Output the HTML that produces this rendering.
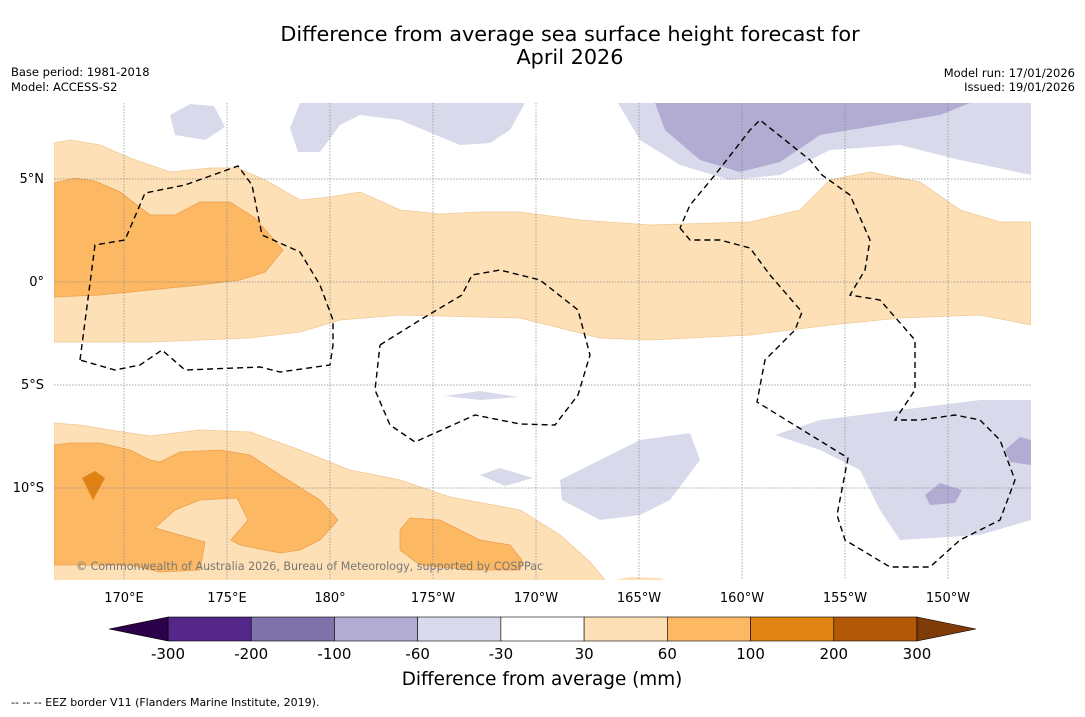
<!DOCTYPE html>
<html><head><meta charset="utf-8"><style>
body{margin:0;background:#fff;font-family:"DejaVu Sans","Liberation Sans",sans-serif}
svg text{font-family:"DejaVu Sans","Liberation Sans",sans-serif}
</style></head><body>
<svg id="chart" width="1085" height="713" viewBox="0 0 1085 713" xmlns="http://www.w3.org/2000/svg">
<text x="570" y="41" font-size="20.8" text-anchor="middle">Difference from average sea surface height forecast for</text>
<text x="570" y="64" font-size="20.8" text-anchor="middle">April 2026</text>
<text x="11" y="76" font-size="11.5">Base period: 1981-2018</text>
<text x="11" y="91" font-size="11.5">Model: ACCESS-S2</text>
<text x="1075" y="77" font-size="11.5" text-anchor="end">Model run: 17/01/2026</text>
<text x="1075" y="91" font-size="11.5" text-anchor="end">Issued: 19/01/2026</text>
<defs><clipPath id="mc"><rect x="54" y="103" width="977" height="477"/></clipPath></defs>
<g clip-path="url(#mc)">
<rect x="54" y="103" width="977" height="477" fill="#fff"/>
<polygon fill="#fee0b6" stroke="#f0c896" stroke-width="0.8" points="54,143 70,140 100,145 130,158 170,172 210,168 238,168 265,180 300,200 330,197 360,192 400,210 440,214 480,212 520,212 580,220 650,225 750,222 800,210 830,180 870,172 920,182 960,210 1000,222 1031,222 1031,325 980,315 900,318 830,325 750,335 650,340 600,338 520,318 400,315 340,320 300,332 250,338 150,342 54,342"/>
<polygon fill="#fdb863" stroke="#eaa050" stroke-width="0.8" points="54,183 75,178 95,181 120,192 150,215 175,215 200,202 230,202 255,218 283,250 265,272 240,280 200,285 150,290 100,295 54,297"/>
<polygon fill="#fee0b6" stroke="#f0c896" stroke-width="0.8" points="54,423 80,425 110,430 150,436 200,430 250,432 300,450 350,470 400,480 450,497 520,510 560,535 590,562 605,580 610,590 54,590"/>
<polygon fill="#fdb863" stroke="#eaa050" stroke-width="0.8" points="54,445 70,443 100,443 130,450 150,460 160,462 180,452 220,450 250,455 280,475 320,500 338,520 320,540 300,550 280,553 240,545 231,540 248,520 237,498 200,500 175,510 155,528 205,542 200,570 160,572 130,565 54,565"/>
<polygon fill="#e08214" points="82,478 95,471 105,478 93,500"/>
<polygon fill="#fdb863" stroke="#eaa050" stroke-width="0.8" points="400,530 410,518 440,520 480,540 510,545 522,560 520,570 470,570 420,565 400,550"/>
<polygon fill="#fee0b6" points="615,580 630,577 660,578 665,580"/>
<polygon fill="#d8daeb" points="285,103 300,103 290,128 298,152 320,152 340,125 360,115 400,120 460,145 490,143 510,130 525,103"/>
<polygon fill="#d8daeb" points="170,115 190,104 214,106 225,127 205,140 175,135"/>
<polygon fill="#d8daeb" points="618,103 640,140 680,165 730,180 780,175 830,150 900,145 960,160 1031,175 1031,103"/>
<polygon fill="#b2abd2" points="655,103 665,130 700,160 740,172 780,162 820,135 880,125 940,115 970,103"/>
<polygon fill="#d8daeb" points="775,435 820,420 900,410 980,400 1031,400 1031,520 980,535 900,540 880,510 860,470 820,450"/>
<polygon fill="#b2abd2" points="1005,450 1020,437 1031,440 1031,465 1010,462"/>
<polygon fill="#b2abd2" points="925,495 940,483 962,490 955,503 930,505"/>
<polygon fill="#d8daeb" points="560,480 600,460 640,440 690,433 700,460 670,500 640,515 600,520 562,500"/>
<polygon fill="#d8daeb" points="445,396 480,391 518,397 480,400"/>
<polygon fill="#d8daeb" points="480,475 500,468 533,478 505,486"/>
<g stroke="#888" stroke-width="0.7" stroke-dasharray="1.5,1.5" id="grid"></g>
<g fill="none" stroke="#000" stroke-width="1.4" stroke-dasharray="6,4">
<polyline points="80,360 95,245 125,240 145,193 185,185 238,166 252,185 262,235 300,252 320,285 333,320 333,345 330,365 280,372 260,367 185,370 162,350 140,365 115,370 80,360"/>
<polyline points="380,345 420,320 462,295 472,275 500,270 540,280 578,310 590,355 578,395 555,425 520,424 475,415 415,442 390,425 375,390 380,345"/>
<polyline points="680,228 690,240 720,240 750,248 770,275 802,312 795,330 765,360 757,402 848,458 837,515 845,540 890,567 930,567 960,540 1000,520 1015,480 1000,440 980,420 955,415 920,420 895,420 915,390 915,340 880,300 850,295 865,270 870,240 850,195 822,175 810,160 760,120 750,130 715,175 690,205 680,228"/>
</g>
<text x="76" y="570" font-size="11.1" fill="#777">© Commonwealth of Australia 2026, Bureau of Meteorology, supported by COSPPac</text>
</g>
<g id="axislabels" font-size="13"></g>
<g id="cbar"></g>
<text x="542" y="685" font-size="18.4" text-anchor="middle">Difference from average (mm)</text>
<text x="11" y="706" font-size="11">--  --  -- EEZ border V11 (Flanders Marine Institute, 2019).</text>
</svg>
<script>
const lonLabels=["170°E","175°E","180°","175°W","170°W","165°W","160°W","155°W","150°W"];
const latLabels=["5°N","0°","5°S","10°S"];
const levels=[-300,-200,-100,-60,-30,30,60,100,200,300];
const colors=["#542788","#8073ac","#b2abd2","#d8daeb","#ffffff","#fee0b6","#fdb863","#e08214","#b35806"];
const ns="http://www.w3.org/2000/svg";
const lonX=i=>124+i*103;
const latY=i=>179+i*103;
const grid=document.getElementById('grid'),al=document.getElementById('axislabels');
lonLabels.forEach((l,i)=>{
 const ln=document.createElementNS(ns,'line');
 ln.setAttribute('x1',lonX(i));ln.setAttribute('x2',lonX(i));ln.setAttribute('y1',103);ln.setAttribute('y2',580);
 
 
 grid.appendChild(ln);
 const t=document.createElementNS(ns,'text');
 t.setAttribute('x',lonX(i));t.setAttribute('y',602);t.setAttribute('text-anchor','middle');t.textContent=l;
 
 
 al.appendChild(t);
});
latLabels.forEach((l,i)=>{
 const ln=document.createElementNS(ns,'line');
 ln.setAttribute('x1',54);ln.setAttribute('x2',1031);ln.setAttribute('y1',latY(i));ln.setAttribute('y2',latY(i));
 
 
 grid.appendChild(ln);
 const t=document.createElementNS(ns,'text');
 t.setAttribute('x',44);t.setAttribute('y',latY(i)+4);t.setAttribute('text-anchor','end');t.textContent=l;
 
 
 al.appendChild(t);
});
const cb=document.getElementById('cbar');
const x0=168,x1=917,y0=617,h=24,w=(x1-x0)/colors.length;
const cx=i=>x0+i*w;
colors.forEach((c,i)=>{
 const r=document.createElementNS(ns,'rect');
 r.setAttribute('x',cx(i));r.setAttribute('y',y0);r.setAttribute('width',w);r.setAttribute('height',h);
 r.setAttribute('fill',c);r.setAttribute('stroke','#000');r.setAttribute('stroke-width','0.6');
 
 
 cb.appendChild(r);
});
const lt=document.createElementNS(ns,'polygon');
lt.setAttribute('points',`${x0},${y0} 109,${y0+h/2} ${x0},${y0+h}`);lt.setAttribute('fill','#2d004b');lt.setAttribute('stroke','#000');lt.setAttribute('stroke-width','0.6');


cb.appendChild(lt);
const rt=document.createElementNS(ns,'polygon');
rt.setAttribute('points',`${x1},${y0} 976,${y0+h/2} ${x1},${y0+h}`);rt.setAttribute('fill','#7f3b08');rt.setAttribute('stroke','#000');rt.setAttribute('stroke-width','0.6');


cb.appendChild(rt);
levels.forEach((v,i)=>{
 const t=document.createElementNS(ns,'text');
 t.setAttribute('x',cx(i));t.setAttribute('y',659);t.setAttribute('text-anchor','middle');t.setAttribute('font-size','15');t.textContent=v;
 
 
 cb.appendChild(t);
});
</script>
</body></html>
